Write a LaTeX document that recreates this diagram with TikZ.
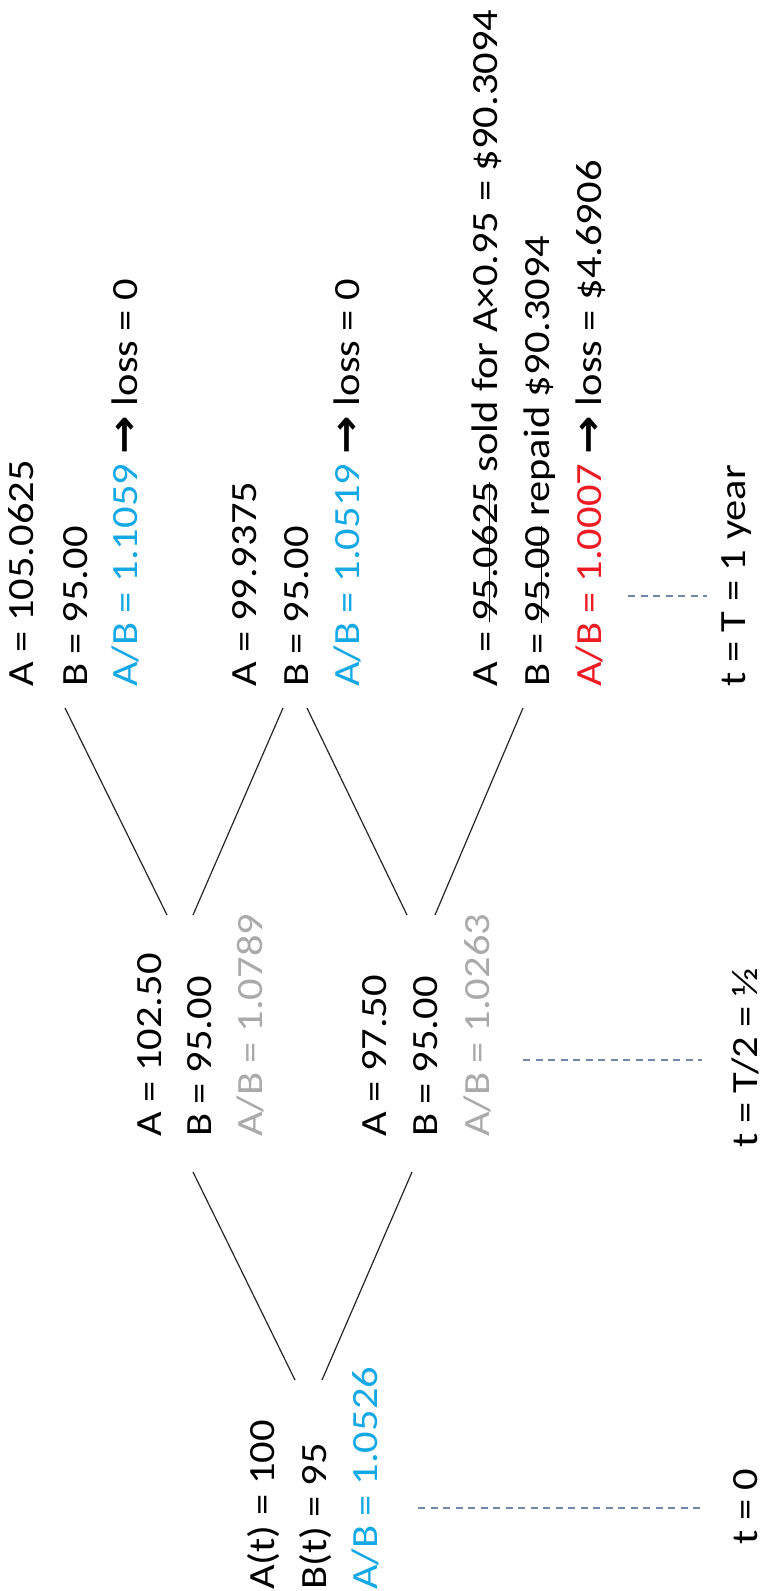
\documentclass[tikz,border=0pt]{standalone}
\usepackage{fontspec}
\setmainfont{Carlito}
\newfontfamily\arrowfont{DejaVu Sans}
\usetikzlibrary{positioning}

\definecolor{abblue}{RGB}{20,168,228}
\definecolor{abgray}{RGB}{170,170,170}
\definecolor{abred}{RGB}{237,28,36}
\definecolor{tgray}{RGB}{112,136,166}

\newcommand{\strk}[1]{\setbox0\hbox{#1}\rlap{\rule[0.18em]{\wd0}{0.05em}}\box0\relax}
\newcommand{\goesto}{{\arrowfont\bfseries\fontsize{46}{51}\selectfont →}}

\tikzset{
  txt/.style={font=\fontsize{42.5}{51}\selectfont, inner sep=0pt, xscale=0.87, rotate=90, anchor=base west},
  branch/.style={line width=1.2pt, black!85},
  tdash/.style={line width=1.3pt, tgray, dash pattern=on 7pt off 5.5pt},
}

\begin{document}
\begin{tikzpicture}[x=1pt, y=-1pt]
\useasboundingbox (0,0) rectangle (768,1591);

% t = 0
\node[txt] (r-A) at (274,1590) {A(t) = 100};
\node[txt] (r-B) at (326,1590) {B(t) = 95};
\node[txt, abblue] (r-R) at (377,1590) {A/B = 1.0526};

% t = T/2
\node[txt] (u-A) at (161,1137) {A = 102.50};
\node[txt] (u-B) at (211,1137) {B = 95.00};
\node[txt, abgray] (u-R) at (262,1137) {A/B = 1.0789};

\node[txt] (d-A) at (386,1137) {A = 97.50};
\node[txt] (d-B) at (437,1137) {B = 95.00};
\node[txt, abgray] (d-R) at (489,1137) {A/B = 1.0263};

% t = T
\node[txt] (uu-A) at (34,687) {A = 105.0625};
\node[txt] (uu-B) at (87,687) {B = 95.00};
\node[txt] (uu-R) at (137,687) {\textcolor{abblue}{A/B = 1.1059} \goesto{} loss = 0};

\node[txt] (ud-A) at (256,687) {A = 99.9375};
\node[txt] (ud-B) at (308,687) {B = 95.00};
\node[txt] (ud-R) at (359,687) {\textcolor{abblue}{A/B = 1.0519} \goesto{} loss = 0};

\node[txt] (dd-A) at (497,687) {A = \strk{95.0625} sold for A×0.95 = \$90.3094};
\node[txt] (dd-B) at (549,687) {B = \strk{95.00} repaid \$90.3094};
\node[txt] (dd-R) at (601,687) {\textcolor{abred}{A/B = 1.0007} \goesto{} loss = \$4.6906};

% time labels
\node[txt] (t0) at (757,1545) {t = 0};
\node[txt] (t1) at (757,1148) {t = T/2 = ½};
\node[txt] (t2) at (745,687) {t = T = 1 year};

% branch ends
\coordinate (r-up) at (295,1380);
\coordinate (r-dn) at (322,1380);
\coordinate (u-in) at (193,1172);
\coordinate (u-up) at (167,915);
\coordinate (u-dn) at (193,915);
\coordinate (d-in) at (412,1172);
\coordinate (d-up) at (407,915);
\coordinate (d-dn) at (435,915);
\coordinate (uu-in) at (65,708);
\coordinate (ud-in1) at (283,708);
\coordinate (ud-in2) at (307,708);
\coordinate (dd-in) at (523,708);

\draw[branch] (r-up) -- (u-in);
\draw[branch] (r-dn) -- (d-in);
\draw[branch] (u-up) -- (uu-in);
\draw[branch] (u-dn) -- (ud-in1);
\draw[branch] (d-up) -- (ud-in2);
\draw[branch] (d-dn) -- (dd-in);

% time marks
\coordinate (t0-top) at (418,1508);
\coordinate (t1-top) at (523,1060);
\coordinate (t2-top) at (628,596);

\draw[tdash] (t0-top) -- ([xshift=-57]t0.base |- t0-top);
\draw[tdash] (t1-top) -- ([xshift=-55]t1.base |- t1-top);
\draw[tdash] (t2-top) -- ([xshift=-38]t2.base |- t2-top);

\end{tikzpicture}
\end{document}
